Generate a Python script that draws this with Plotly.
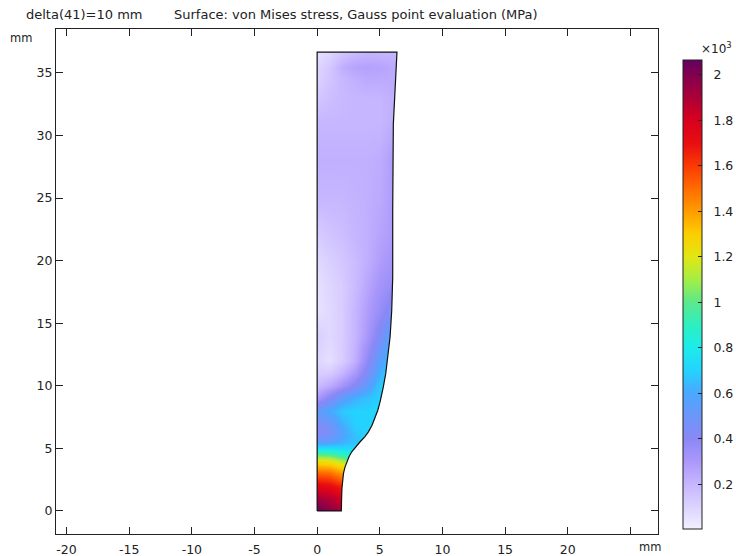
import plotly.graph_objects as go

# Frame in pixels of the 736x556 page
W, H = 736, 556
L, R, T, B = 55.5, 658.5, 28.5, 534.5

x_range = [-20.84, 27.2]
y_range = [-1.84, 38.5]
x_ticks = [-20, -15, -10, -5, 0, 5, 10, 15, 20, 25]
x_labels = ["-20", "-15", "-10", "-5", "0", "5", "10", "15", "20", ""]
y_ticks = [0, 5, 10, 15, 20, 25, 30, 35]

# von Mises stress field (x10^3 MPa)
field_x = [0, 1, 2, 3, 4, 5, 6, 6.5]
field_y = [0, 1, 2, 3, 3.5, 4, 4.5, 5, 5.5, 6, 6.5, 7, 8, 9, 10, 11, 12, 14, 16, 18, 20, 22, 25, 28, 31, 33, 34.5, 35.5, 36.65]
field_z = [
    [2.06, 1.98, 1.90, 1.85, 1.80, 1.75, 1.70, 1.70],
    [1.92, 1.88, 1.80, 1.75, 1.70, 1.70, 1.70, 1.70],
    [1.75, 1.72, 1.65, 1.55, 1.50, 1.50, 1.50, 1.50],
    [1.52, 1.50, 1.40, 1.30, 1.25, 1.25, 1.25, 1.25],
    [1.38, 1.36, 1.28, 1.15, 1.10, 1.10, 1.10, 1.10],
    [1.24, 1.22, 1.12, 0.98, 0.90, 0.90, 0.90, 0.90],
    [1.02, 1.00, 0.92, 0.82, 0.78, 0.78, 0.78, 0.78],
    [0.74, 0.74, 0.72, 0.72, 0.72, 0.72, 0.72, 0.72],
    [0.54, 0.56, 0.62, 0.66, 0.70, 0.72, 0.72, 0.72],
    [0.44, 0.48, 0.58, 0.66, 0.70, 0.72, 0.72, 0.72],
    [0.40, 0.46, 0.58, 0.68, 0.70, 0.72, 0.72, 0.72],
    [0.44, 0.50, 0.62, 0.70, 0.70, 0.72, 0.72, 0.72],
    [0.52, 0.60, 0.68, 0.70, 0.70, 0.72, 0.72, 0.72],
    [0.30, 0.42, 0.54, 0.62, 0.66, 0.70, 0.72, 0.72],
    [0.18, 0.24, 0.32, 0.42, 0.54, 0.68, 0.72, 0.72],
    [0.12, 0.13, 0.20, 0.30, 0.44, 0.62, 0.72, 0.72],
    [0.09, 0.06, 0.12, 0.22, 0.38, 0.56, 0.68, 0.68],
    [0.12, 0.08, 0.12, 0.20, 0.30, 0.44, 0.58, 0.58],
    [0.05, 0.08, 0.12, 0.20, 0.28, 0.36, 0.44, 0.44],
    [0.05, 0.09, 0.12, 0.18, 0.25, 0.32, 0.36, 0.36],
    [0.08, 0.11, 0.14, 0.18, 0.22, 0.28, 0.32, 0.32],
    [0.12, 0.15, 0.17, 0.20, 0.22, 0.26, 0.29, 0.29],
    [0.20, 0.20, 0.20, 0.21, 0.22, 0.24, 0.28, 0.28],
    [0.22, 0.22, 0.22, 0.22, 0.22, 0.23, 0.28, 0.28],
    [0.20, 0.20, 0.20, 0.20, 0.20, 0.20, 0.22, 0.22],
    [0.14, 0.17, 0.19, 0.20, 0.20, 0.20, 0.22, 0.22],
    [0.10, 0.15, 0.19, 0.22, 0.24, 0.24, 0.24, 0.24],
    [0.09, 0.14, 0.22, 0.26, 0.27, 0.26, 0.24, 0.24],
    [0.05, 0.09, 0.14, 0.18, 0.20, 0.20, 0.20, 0.20],
]

# Right-hand edge of the section, bottom to top (mm)
edge_x = [1.93, 1.95, 1.98, 2.03, 2.10, 2.22, 2.36, 2.55, 2.76, 3.08, 3.43, 3.80, 4.09, 4.38, 4.62, 4.84, 5.02, 5.17, 5.28, 5.47, 5.63, 5.82, 5.95, 6.03, 6.03, 6.03, 6.08, 6.22, 6.37]
edge_y = [0, 1.0, 1.81, 2.4, 3.0, 3.5, 3.93, 4.35, 4.73, 5.15, 5.53, 5.92, 6.32, 6.85, 7.39, 8.05, 8.72, 9.3, 9.91, 10.95, 12.3, 13.9, 16.0, 18.7, 22.7, 24.0, 30.9, 33.6, 36.65]

z_min, z_max = 0.003, 2.066
stops = [
    (0.003, "#f2f0ff"), (0.2, "#c6b6ff"), (0.3, "#ab98fb"), (0.4, "#8a88f6"), (0.5, "#6c96fa"),
    (0.6, "#4aa8ff"), (0.7, "#24d2ff"), (0.8, "#1cecea"), (0.9, "#2cf0c0"), (1.0, "#5ce88c"),
    (1.1, "#a4ee44"), (1.2, "#e2e612"), (1.3, "#fcce00"), (1.4, "#ff9c00"), (1.5, "#ff6c00"),
    (1.6, "#fa3a04"), (1.7, "#e80e10"), (1.8, "#d8001e"), (1.9, "#ac0038"), (2.0, "#82004e"), (2.066, "#640062"),
]
colorscale = [[(v - z_min) / (z_max - z_min), c] for v, c in stops]
bar_ticks = [0.2, 0.4, 0.6, 0.8, 1, 1.2, 1.4, 1.6, 1.8, 2]
bar_labels = ["\u00a0\u00a00.2", "\u00a0\u00a00.4", "\u00a0\u00a00.6", "\u00a0\u00a00.8", "\u00a0\u00a01",
              "\u00a0\u00a01.2", "\u00a0\u00a01.4", "\u00a0\u00a01.6", "\u00a0\u00a01.8", "\u00a0\u00a02"]

FONT = "DejaVu Sans"
INK = "#222222"
pw, ph = R - L, B - T
bar_left, bar_right, bar_top, bar_bottom = 684.0, 702.5, 59.5, 528.5

fig = go.Figure()
fig.add_trace(go.Heatmap(
    x=field_x, y=field_y, z=field_z, zsmooth="best", zmin=z_min, zmax=z_max,
    colorscale=colorscale, hoverinfo="skip",
    colorbar=dict(
        thicknessmode="pixels", thickness=bar_right - bar_left, lenmode="pixels", len=bar_bottom - bar_top,
        xref="paper", yref="paper", x=(bar_left - L) / pw, xanchor="left",
        y=(B - bar_top) / ph, yanchor="top", xpad=0, ypad=0,
        outlinecolor="#222222", outlinewidth=1, ticks="inside", ticklen=4, tickcolor="#222222",
        tickmode="array", tickvals=bar_ticks, ticktext=bar_labels,
        tickfont=dict(family=FONT, size=12.5, color=INK),
    ),
))

# White mask outside the section, with the section as a hole
mask_x = [-1, 8, 8, -1, -1, 0, 0] + edge_x[::-1] + [0, -1]
mask_y = [-1, -1, 38, 38, -1, 0, edge_y[-1]] + edge_y[::-1] + [0, -1]
fig.add_trace(go.Scatter(x=mask_x, y=mask_y, mode="none", fill="toself", fillcolor="white",
                         hoverinfo="skip", showlegend=False))
fig.add_trace(go.Scatter(x=[0, 0] + edge_x[::-1] + [0], y=[0, edge_y[-1]] + edge_y[::-1] + [0],
                         mode="lines", line=dict(color="#111111", width=1.2),
                         hoverinfo="skip", showlegend=False))

axis = dict(showgrid=False, zeroline=False, showline=True, linecolor="#222222", linewidth=1, mirror="allticks",
            ticks="inside", ticklen=7, tickcolor="#222222", tickwidth=1,
            tickfont=dict(family=FONT, size=12.5, color=INK), tickmode="array")
fig.update_layout(
    width=W, height=H, margin=dict(l=L, r=W - R, t=T, b=H - B, autoexpand=False),
    paper_bgcolor="white", plot_bgcolor="white", showlegend=False,
    xaxis=dict(axis, range=x_range, tickvals=x_ticks, ticktext=x_labels, tickangle=0, ticklabelstandoff=4),
    yaxis=dict(axis, range=y_range, tickvals=y_ticks, ticktext=[str(v) for v in y_ticks]),
)

def note(text, px, py, size=12.0, anchor="left"):
    fig.add_annotation(text=text, xref="paper", yref="paper", x=(px - L) / pw, y=(B - py) / ph,
                       xanchor=anchor, yanchor="middle", showarrow=False,
                       font=dict(family=FONT, size=size, color=INK))

note("delta(41)=10 mm", 23, 13.5, 13)
note("Surface: von Mises stress, Gauss point evaluation (MPa)", 172, 13.5, 13)
note("mm", 7, 38, 11.5)
note("mm", 637.5, 548, 11.5)
note("×10<sup>3</sup>", 700, 48)

# Left-hand ticks of the colour bar
for v in bar_ticks:
    py = bar_bottom - (v - z_min) / (z_max - z_min) * (bar_bottom - bar_top)
    yp = (B - py) / ph
    fig.add_shape(type="line", xref="paper", yref="paper", line=dict(color="#222222", width=1),
                  x0=(bar_left - L) / pw, x1=(bar_left + 4 - L) / pw, y0=yp, y1=yp)

fig.write_html("out.html", config=dict(displayModeBar=False),
               post_script="document.body.style.margin='0';document.body.style.overflow='hidden';")
